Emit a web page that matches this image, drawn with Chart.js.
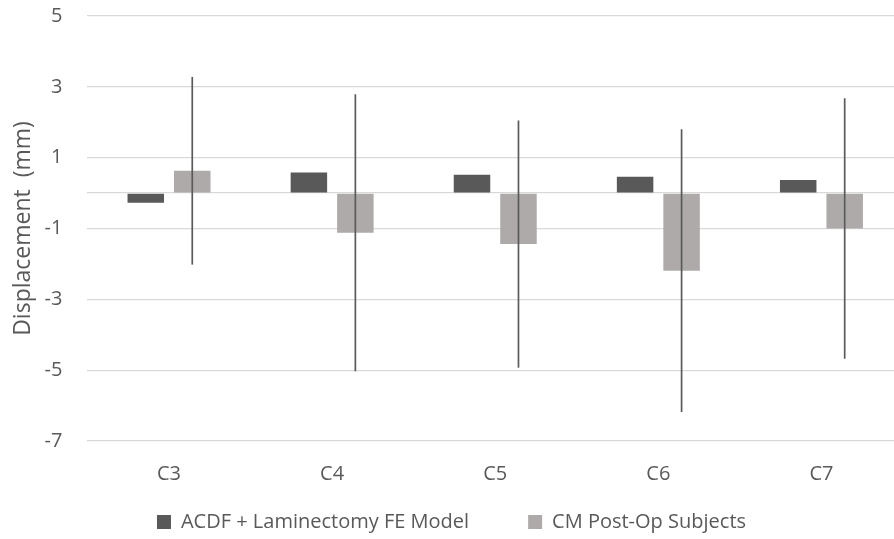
<!DOCTYPE html>
<html>
<head>
<meta charset="utf-8">
<script src="https://cdn.jsdelivr.net/npm/chart.js@4"></script>
<style>
  html, body { margin: 0; padding: 0; background: #ffffff; overflow: hidden; }
  #wrap { width: 903px; height: 539px; position: relative; }
</style>
</head>
<body>
<div id="wrap"><canvas id="c"></canvas></div>
<script>
const categories = ['C3', 'C4', 'C5', 'C6', 'C7'];
const feModel = [-0.27, 0.58, 0.52, 0.46, 0.37];
const cmSubjects = [0.63, -1.12, -1.44, -2.19, -1.00];
const cmError = [2.65, 3.91, 3.49, 3.99, 3.68];
const seriesNames = ['ACDF + Laminectomy FE Model', 'CM Post-Op Subjects'];
const yTicks = [-7, -5, -3, -1, 1, 3, 5];

const textColor = '#595959';
const fontFamily = "'Open Sans', 'Liberation Sans', sans-serif";

const errorBarPlugin = {
  id: 'errorBars',
  afterDatasetsDraw(chart) {
    const ctx = chart.ctx;
    const meta = chart.getDatasetMeta(1);
    const y = chart.scales.y;
    ctx.save();
    ctx.strokeStyle = '#5a5a5a';
    ctx.lineWidth = 1.7;
    meta.data.forEach((bar, i) => {
      const v = cmSubjects[i], e = cmError[i];
      ctx.beginPath();
      ctx.moveTo(bar.x, y.getPixelForValue(v + e));
      ctx.lineTo(bar.x, y.getPixelForValue(v - e));
      ctx.stroke();
    });
    ctx.restore();
  }
};

// give the category labels room to draw below the (compact) x-axis box
const xLabelRoom = {
  id: 'xLabelRoom',
  afterLayout(chart) {
    const s = chart.scales.x;
    s.bottom = s.top + 60;
  }
};

new Chart(document.getElementById('c'), {
  type: 'bar',
  data: {
    labels: categories,
    datasets: [
      { label: seriesNames[0], data: feModel, backgroundColor: '#595959', borderWidth: 0 },
      { label: seriesNames[1], data: cmSubjects, backgroundColor: '#AEAAAA', borderWidth: 0 }
    ]
  },
  options: {
    responsive: true,
    maintainAspectRatio: false,
    animation: false,
    datasets: { bar: { categoryPercentage: 0.57, barPercentage: 0.785 } },
    layout: { padding: { top: 0, right: 0, left: 0, bottom: -3 } },
    plugins: {
      legend: {
        position: 'bottom',
        labels: {
          color: textColor,
          font: { family: fontFamily, size: 20 },
          boxWidth: 14, boxHeight: 14,
          padding: 59
        }
      },
      tooltip: { enabled: false }
    },
    scales: {
      x: {
        grid: { display: false },
        border: { display: false },
        ticks: { color: textColor, font: { family: fontFamily, size: 20 }, padding: 13 },
        afterFit(scale) { scale.height = 12; }
      },
      y: {
        min: -7, max: 5,
        afterBuildTicks(scale) {
          const t = yTicks.map(v => ({ value: v }));
          t.push({ value: 0 });
          t.sort((a, b) => a.value - b.value);
          scale.ticks = t;
        },
        grid: { color: '#d9d9d9', lineWidth: 1.3, drawTicks: true, tickLength: 21, tickColor: 'rgba(0,0,0,0)' },
        border: { display: false },
        ticks: {
          color: textColor, font: { family: fontFamily, size: 20 }, padding: 4,
          callback: (v) => (v === 0 ? '' : String(v))
        },
        title: {
          display: true, text: 'Displacement  (mm)', color: textColor,
          font: { family: fontFamily, size: 23 }, padding: { top: 10, bottom: 3 }
        }
      }
    }
  },
  plugins: [errorBarPlugin, xLabelRoom]
});
</script>
</body>
</html>
